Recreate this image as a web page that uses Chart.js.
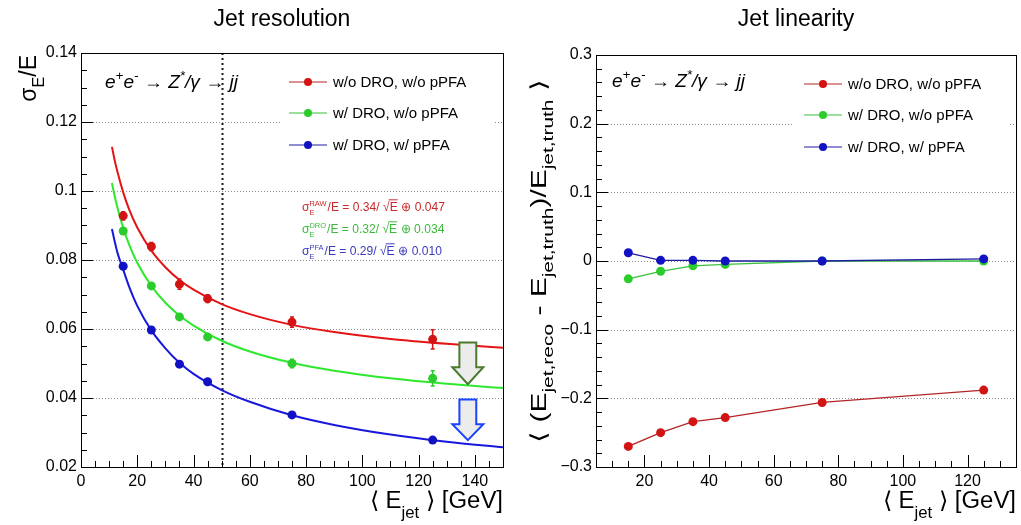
<!DOCTYPE html>
<html>
<head>
<meta charset="utf-8">
<script src="https://cdn.jsdelivr.net/npm/chart.js@4.4.0/dist/chart.umd.min.js"></script>
<style>
  html, body { margin: 0; padding: 0; background: #fff; }
  #wrap { position: relative; width: 1021px; height: 525px; }
  canvas { position: absolute; top: 0; }
</style>
</head>
<body>
<div id="wrap">
  <canvas id="resChart" width="510" height="525" style="left:0"></canvas>
  <canvas id="linChart" width="511" height="525" style="left:510px"></canvas>
</div>
<script>
// ---- data ----
const energies = [15, 25, 35, 45, 75, 125];
const seriesNames = ['w/o DRO, w/o pPFA', 'w/ DRO, w/o pPFA', 'w/ DRO, w/ pPFA'];

// jet resolution points and error bars
const resRaw = [0.0928, 0.0839, 0.0730, 0.0688, 0.0620, 0.0570];
const resRawErr = [0.0012, 0.0012, 0.0015, 0.0011, 0.0015, 0.0028];
const resDro = [0.0884, 0.0725, 0.0635, 0.0577, 0.0500, 0.0457];
const resDroErr = [0.0008, 0.0008, 0.0008, 0.0008, 0.0012, 0.0022];
const resPfa = [0.0782, 0.0597, 0.0498, 0.0447, 0.0351, 0.0278];
const resPfaErr = [0.0005, 0.0005, 0.0005, 0.0005, 0.0005, 0.0006];

// fitted curves, sampled along the drawn lines
const fitE = [11, 12, 13, 15, 17, 20, 25, 30, 35, 40, 50, 60, 75, 90, 110, 130, 150];
const fitRaw = [0.1128, 0.1088, 0.1054, 0.0996, 0.0949, 0.0894, 0.0827, 0.0779, 0.0742, 0.0714, 0.0672, 0.0643, 0.0612, 0.0591, 0.0571, 0.0557, 0.0546];
const fitDro = [0.1023, 0.0984, 0.0950, 0.0893, 0.0847, 0.0792, 0.0725, 0.0676, 0.0639, 0.0610, 0.0566, 0.0535, 0.0502, 0.0479, 0.0457, 0.0441, 0.0429];
const fitPfa = [0.0890, 0.0853, 0.0820, 0.0772, 0.0725, 0.0667, 0.0596, 0.0544, 0.0502, 0.0470, 0.0423, 0.0389, 0.0350, 0.0322, 0.0294, 0.0273, 0.0257];

// jet linearity
const linRaw = [-0.270, -0.250, -0.234, -0.228, -0.206, -0.188];
const linDro = [-0.026, -0.015, -0.007, -0.005, 0.000, 0.000];
const linPfa = [0.012, 0.001, 0.001, 0.000, 0.000, 0.003];

// axis ticks
const resXTicks = [0, 20, 40, 60, 80, 100, 120, 140];
const resYTicks = [0.02, 0.04, 0.06, 0.08, 0.1, 0.12, 0.14];
const linXTicks = [20, 40, 60, 80, 100, 120];
const linYTicks = [-0.3, -0.2, -0.1, 0, 0.1, 0.2, 0.3];

const fitLabels = [
  {tag: 'RAW', a: '0.34', c: '0.047'},
  {tag: 'DRO', a: '0.32', c: '0.034'},
  {tag: 'PFA', a: '0.29', c: '0.010'}
];

// ---- styling ----
const FONT = '"Liberation Sans", Arial, Helvetica, sans-serif';
const markerCols = ['#d21414', '#2ccc2c', '#1212c4'];
const curveCols = ['#e41414', '#2ee82e', '#1818dc'];
const linLineCols = ['#b42424', '#3cc03c', '#1c1ca0'];
const fitTextCols = ['#c82a2a', '#3cb83c', '#3a3abc'];

// ---- small rich text helper (sub/superscripts) ----
function setFont(ctx, size, it) {
  ctx.font = (it ? 'italic ' : '') + size + 'px ' + FONT;
}
function partWidth(ctx, p, size) {
  if (p.stk) {
    setFont(ctx, size * 0.62);
    return Math.max(ctx.measureText(p.stk[0]).width, ctx.measureText(p.stk[1]).width) + 1;
  }
  setFont(ctx, (p.sub || p.sup) ? size * 0.7 : size, p.it);
  return ctx.measureText(p.t).width;
}
function drawRich(ctx, parts, x, y, size, color, align, stretch, subDrop) {
  stretch = stretch || 1;
  subDrop = subDrop || 0.33;
  ctx.save();
  ctx.translate(x, y);
  ctx.scale(stretch, 1);
  ctx.fillStyle = color;
  ctx.strokeStyle = color;
  ctx.textBaseline = 'alphabetic';
  ctx.textAlign = 'left';
  let w = 0;
  parts.forEach(p => { w += partWidth(ctx, p, size); });
  let cx = align === 'right' ? -w : (align === 'center' ? -w / 2 : 0);
  for (const p of parts) {
    const pw = partWidth(ctx, p, size);
    if (p.stk) {
      setFont(ctx, size * 0.62);
      ctx.fillText(p.stk[0], cx, -size * 0.42);
      ctx.fillText(p.stk[1], cx, size * 0.3);
    } else {
      const s = (p.sub || p.sup) ? size * 0.7 : size;
      setFont(ctx, s, p.it);
      const dy = p.sub ? size * subDrop : (p.sup ? -size * 0.42 : 0);
      ctx.fillText(p.t, cx, dy);
      if (p.over) {
        ctx.lineWidth = 1;
        ctx.beginPath();
        ctx.moveTo(cx - 1, -size * 0.86);
        ctx.lineTo(cx + pw, -size * 0.86);
        ctx.stroke();
      }
    }
    cx += pw;
  }
  ctx.restore();
}

// ---- ROOT-like frame, ticks, grid, error bars, decorations ----
const rootFrame = {
  id: 'rootFrame',
  beforeDatasetsDraw(chart, args, o) {
    const {ctx, chartArea: a, scales: {x, y}} = chart;
    ctx.save();
    ctx.strokeStyle = '#8c8c8c';
    ctx.lineWidth = 1;
    ctx.setLineDash([1, 2]);
    for (const v of o.yTicks) {
      const py = Math.round(y.getPixelForValue(v)) + 0.5;
      if (py <= a.top + 2 || py >= a.bottom - 2) continue;
      ctx.beginPath();
      ctx.moveTo(a.left, py);
      ctx.lineTo(a.right, py);
      ctx.stroke();
    }
    if (o.blank) {
      const b = o.blank;
      const x1 = x.getPixelForValue(b[0]), x2 = x.getPixelForValue(b[1]);
      const y1 = y.getPixelForValue(b[3]), y2 = y.getPixelForValue(b[2]);
      ctx.fillStyle = '#fff';
      ctx.fillRect(x1, y1, x2 - x1, y2 - y1);
    }
    if (o.vline != null) {
      const px = Math.round(x.getPixelForValue(o.vline)) + 0.5;
      ctx.strokeStyle = '#1a1a1a';
      ctx.lineWidth = 2;
      ctx.setLineDash([2, 3]);
      ctx.beginPath();
      ctx.moveTo(px, a.top);
      ctx.lineTo(px, a.bottom);
      ctx.stroke();
    }
    ctx.restore();
  },
  afterDatasetsDraw(chart, args, o) {
    const {ctx, scales: {x, y}} = chart;
    ctx.save();
    chart.data.datasets.forEach((ds, i) => {
      if (!ds.errors) return;
      const meta = chart.getDatasetMeta(i);
      meta.data.forEach((el, j) => {
        const v = ds.data[j].y, e = ds.errors[j];
        const yt = y.getPixelForValue(v + e), yb = y.getPixelForValue(v - e);
        ctx.strokeStyle = ds.backgroundColor;
        ctx.lineWidth = 1.5;
        ctx.beginPath();
        ctx.moveTo(el.x, yt); ctx.lineTo(el.x, yb);
        ctx.moveTo(el.x - 2, yt); ctx.lineTo(el.x + 2, yt);
        ctx.moveTo(el.x - 2, yb); ctx.lineTo(el.x + 2, yb);
        ctx.stroke();
      });
    });
    (o.arrows || []).forEach(ar => {
      const xs = [ar.x - ar.head, ar.x - ar.shaft, ar.x + ar.shaft, ar.x + ar.head].map(v => x.getPixelForValue(v));
      const xc = x.getPixelForValue(ar.x);
      const yTop = y.getPixelForValue(ar.top), yNeck = y.getPixelForValue(ar.neck), yTip = y.getPixelForValue(ar.tip);
      ctx.beginPath();
      ctx.moveTo(xs[1], yTop);
      ctx.lineTo(xs[2], yTop);
      ctx.lineTo(xs[2], yNeck);
      ctx.lineTo(xs[3], yNeck);
      ctx.lineTo(xc, yTip);
      ctx.lineTo(xs[0], yNeck);
      ctx.lineTo(xs[1], yNeck);
      ctx.closePath();
      ctx.fillStyle = '#ececec';
      ctx.fill();
      ctx.strokeStyle = ar.color;
      ctx.lineWidth = 2;
      ctx.stroke();
    });
    ctx.restore();
  },
  afterDraw(chart, args, o) {
    const {ctx, chartArea: a, scales: {x, y}} = chart;
    ctx.save();
    ctx.strokeStyle = '#000';
    ctx.lineWidth = 1;
    ctx.strokeRect(Math.round(a.left) + 0.5, Math.round(a.top) + 0.5, Math.round(a.right - a.left), Math.round(a.bottom - a.top));
    ctx.beginPath();
    // ticks on the x axis, pointing inside
    for (let k = 0; ; k++) {
      const v = x.min + k * o.xMinor;
      if (v > x.max + 1e-9) break;
      const major = Math.abs(v / o.xMajor - Math.round(v / o.xMajor)) < 1e-6;
      const px = Math.round(x.getPixelForValue(v)) + 0.5;
      ctx.moveTo(px, a.bottom);
      ctx.lineTo(px, a.bottom - (major ? 12 : 6));
    }
    // ticks on the y axis
    for (let k = 0; ; k++) {
      const v = y.min + k * o.yMinor;
      if (v > y.max + 1e-9) break;
      const major = Math.abs(v / o.yMajor - Math.round(v / o.yMajor)) < 1e-6;
      const py = Math.round(y.getPixelForValue(v)) + 0.5;
      ctx.moveTo(a.left, py);
      ctx.lineTo(a.left + (major ? 12 : 6), py);
    }
    ctx.stroke();
    ctx.restore();
    if (o.decor) o.decor(chart);
  }
};

function legendBlock(chart, cols) {
  const {ctx, chartArea: a} = chart;
  const rows = [29, 60, 92];
  rows.forEach((dy, i) => {
    const yy = a.top + dy;
    ctx.save();
    ctx.strokeStyle = linLineCols[i];
    ctx.lineWidth = 1.2;
    ctx.beginPath();
    ctx.moveTo(a.left + 208, yy);
    ctx.lineTo(a.left + 246, yy);
    ctx.stroke();
    ctx.fillStyle = cols[i];
    ctx.beginPath();
    ctx.arc(a.left + 227, yy, 4, 0, Math.PI * 2);
    ctx.fill();
    ctx.restore();
    drawRich(ctx, [{t: seriesNames[i]}], a.left + 252, yy + 5, 15, '#000', 'left');
  });
}

const processText = [
  {t: 'e', it: true}, {t: '+', sup: true, it: true}, {t: 'e', it: true}, {t: '-', sup: true, it: true},
  {t: ' \u2192 Z', it: true}, {t: '*', sup: true, it: true}, {t: '/\u03b3 \u2192 ', it: true}, {t: 'jj', it: true}
];

function xTitle(chart) {
  const {ctx, chartArea: a} = chart;
  drawRich(ctx, [{t: '\u27e8 E'}, {t: 'jet', sub: true}, {t: ' \u27e9 [GeV]'}], a.right, 508, 23, '#000', 'right', 1.04, 0.42);
}

function tickFmt(v) {
  const s = String(+Number(v).toFixed(3));
  return s.replace('-', '\u2212');
}

function baseScales(xr, yr, xTicks, yTicks, yWidth) {
  return {
    x: {
      type: 'linear', min: xr[0], max: xr[1],
      grid: {display: false, drawTicks: false}, border: {display: false},
      afterBuildTicks: s => { s.ticks = xTicks.map(v => ({value: v})); },
      afterFit: s => { s.height = 58; },
      ticks: {autoSkip: false, maxRotation: 0, padding: 5, color: '#000', font: {family: FONT, size: 16}, callback: tickFmt}
    },
    y: {
      type: 'linear', min: yr[0], max: yr[1],
      grid: {display: false, drawTicks: false}, border: {display: false},
      afterBuildTicks: s => { s.ticks = yTicks.map(v => ({value: v})); },
      afterFit: s => { s.width = yWidth; },
      ticks: {autoSkip: false, padding: 4, color: '#000', font: {family: FONT, size: 16}, callback: tickFmt}
    }
  };
}

const pts = arr => energies.map((e, i) => ({x: e, y: arr[i]}));
const curve = arr => fitE.map((e, i) => ({x: e, y: arr[i]}));

// ---- left: jet resolution ----
new Chart(document.getElementById('resChart'), {
  type: 'scatter',
  data: {
    datasets: [
      {data: pts(resPfa), errors: resPfaErr, backgroundColor: markerCols[2], pointRadius: 4.5, borderWidth: 0, order: 0},
      {data: pts(resDro), errors: resDroErr, backgroundColor: markerCols[1], pointRadius: 4.5, borderWidth: 0, order: 1},
      {data: pts(resRaw), errors: resRawErr, backgroundColor: markerCols[0], pointRadius: 4.5, borderWidth: 0, order: 2},
      {data: curve(fitPfa), showLine: true, borderColor: curveCols[2], borderWidth: 2, pointRadius: 0, cubicInterpolationMode: 'monotone', order: 3},
      {data: curve(fitDro), showLine: true, borderColor: curveCols[1], borderWidth: 2, pointRadius: 0, cubicInterpolationMode: 'monotone', order: 4},
      {data: curve(fitRaw), showLine: true, borderColor: curveCols[0], borderWidth: 2, pointRadius: 0, cubicInterpolationMode: 'monotone', order: 5}
    ]
  },
  options: {
    responsive: false,
    animation: false,
    layout: {padding: {left: 0, right: 7, top: 53, bottom: 0}},
    scales: baseScales([0, 150], [0.02, 0.14], resXTicks, resYTicks, 81),
    plugins: {
      legend: {display: false},
      tooltip: {enabled: false},
      rootFrame: {
        yTicks: resYTicks, xMinor: 5, xMajor: 20, yMinor: 0.005, yMajor: 0.02,
        vline: 50,
        blank: [71, 147, 0.109, 0.138],
        arrows: [
          {x: 137.5, shaft: 3, head: 5.5, top: 0.0561, neck: 0.0489, tip: 0.0440, color: '#4a7a2e'},
          {x: 137.5, shaft: 3, head: 5.5, top: 0.0396, neck: 0.0324, tip: 0.0278, color: '#1a44ff'}
        ],
        decor: chart => {
          const {ctx, chartArea: a} = chart;
          drawRich(ctx, [{t: 'Jet resolution'}], 282, 26, 23, '#000', 'center');
          ctx.save();
          ctx.translate(36, a.top + 2);
          ctx.rotate(-Math.PI / 2);
          drawRich(ctx, [{t: '\u03c3'}, {t: 'E', sub: true}, {t: '/E'}], 0, 0, 23, '#000', 'right');
          ctx.restore();
          drawRich(ctx, processText, a.left + 24, a.top + 35, 18, '#000', 'left', 1.06);
          legendBlock(chart, markerCols);
          fitLabels.forEach((f, i) => {
            drawRich(ctx, [{t: '\u03c3'}, {stk: [f.tag, 'E']}, {t: '/E = ' + f.a + '/ '}, {t: '\u221a'}, {t: 'E', over: true}, {t: ' \u2295 ' + f.c}],
              a.left + 221, a.top + 158 + i * 22, 13, fitTextCols[i], 'left', 0.93);
          });
          xTitle(chart);
        }
      }
    }
  },
  plugins: [rootFrame]
});

// ---- right: jet linearity ----
function linSet(arr, i, order) {
  return {data: pts(arr), showLine: true, borderColor: linLineCols[i], borderWidth: 1.3,
    backgroundColor: markerCols[i], pointBackgroundColor: markerCols[i], pointRadius: 4.5, pointBorderWidth: 0, order: order};
}
new Chart(document.getElementById('linChart'), {
  type: 'scatter',
  data: {
    datasets: [linSet(linPfa, 2, 0), linSet(linDro, 1, 1), linSet(linRaw, 0, 2)]
  },
  options: {
    responsive: false,
    animation: false,
    layout: {padding: {left: 0, right: 5, top: 55, bottom: 0}},
    scales: baseScales([5, 135], [-0.3, 0.3], linXTicks, linYTicks, 86),
    plugins: {
      legend: {display: false},
      tooltip: {enabled: false},
      rootFrame: {
        yTicks: linYTicks, xMinor: 5, xMajor: 20, yMinor: 0.02, yMajor: 0.1,
        blank: [66, 133, 0.148, 0.293],
        decor: chart => {
          const {ctx, chartArea: a} = chart;
          drawRich(ctx, [{t: 'Jet linearity'}], 286, 26, 23, '#000', 'center');
          ctx.save();
          ctx.translate(36, 261);
          ctx.rotate(-Math.PI / 2);
          drawRich(ctx, [{t: '\u27e8 (E'}, {t: 'jet,reco', sub: true}, {t: ' - E'}, {t: 'jet,truth', sub: true},
            {t: ')/E'}, {t: 'jet,truth', sub: true}, {t: ' \u27e9'}], 0, 0, 22, '#000', 'center', 1.36);
          ctx.restore();
          drawRich(ctx, processText, a.left + 16, a.top + 32, 18, '#000', 'left', 1.06);
          legendBlock(chart, markerCols);
          xTitle(chart);
        }
      }
    }
  },
  plugins: [rootFrame]
});
</script>
</body>
</html>
